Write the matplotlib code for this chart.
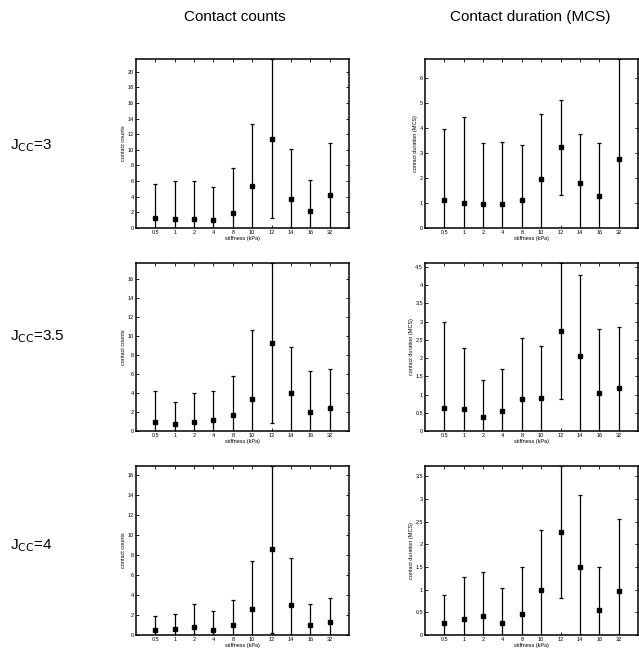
import matplotlib
matplotlib.use("Agg")
import matplotlib.pyplot as plt
from matplotlib.ticker import FuncFormatter, MultipleLocator
import numpy as np

plt.rcParams['font.family'] = ['Liberation Sans', 'DejaVu Sans']

stiffness = ["0.5", "1", "2", "4", "8", "10", "12", "14", "16", "32"]
couplings = ["3", "3.5", "4"]

# contact counts: mean and standard deviation per stiffness
counts_mean = [
    [1.28, 1.20, 1.16, 1.07, 1.97, 5.35, 11.43, 3.77, 2.18, 4.24],
    [0.95, 0.70, 0.98, 1.16, 1.68, 3.40, 9.26, 4.00, 1.96, 2.39],
    [0.50, 0.57, 0.83, 0.50, 0.97, 2.60, 8.53, 3.03, 1.03, 1.33],
]
counts_std = [
    [4.37, 4.84, 4.79, 4.20, 5.70, 7.93, 10.19, 6.33, 3.94, 6.68],
    [3.23, 2.39, 3.06, 3.05, 4.14, 7.20, 8.42, 4.88, 4.32, 4.10],
    [1.40, 1.56, 2.30, 1.93, 2.53, 4.77, 8.33, 4.67, 2.04, 2.40],
]

# contact duration (MCS): mean and standard deviation per stiffness
dur_mean = [
    [1.14, 1.02, 0.95, 0.95, 1.13, 1.96, 3.23, 1.79, 1.29, 2.75],
    [0.62, 0.60, 0.39, 0.56, 0.885, 0.91, 2.75, 2.05, 1.04, 1.19],
    [0.26, 0.36, 0.42, 0.27, 0.46, 0.99, 2.27, 1.49, 0.55, 0.97],
]
dur_std = [
    [2.85, 3.42, 2.45, 2.50, 2.21, 2.63, 1.92, 1.97, 2.11, 4.03],
    [2.36, 1.69, 1.01, 1.14, 1.655, 1.43, 1.86, 2.22, 1.76, 1.67],
    [0.62, 0.93, 0.98, 0.76, 1.04, 1.32, 1.46, 1.59, 0.95, 1.59],
]

count_step = [2, 2, 2]
dur_step = [1, 0.5, 0.5]

W, H = 639, 649
fig = plt.figure(figsize=(W / 100, H / 100), dpi=100)

# axes boxes in pixels
col_x = [(136, 349), (425, 638)]
row_y = [(59, 228), (263, 431), (466, 635)]


def px_axes(x0, x1, y0, y1):
    return fig.add_axes([x0 / W, 1 - y1 / H, (x1 - x0) / W, (y1 - y0) / H])


fmt = FuncFormatter(lambda v, p: "%g" % v)
xpos = np.arange(1, len(stiffness) + 1)


def panel(ax, mean, std, step, ylabel):
    mean = np.array(mean)
    std = np.array(std)
    ax.errorbar(xpos, mean, yerr=std, fmt='s', ms=2.2, color='k',
                ecolor='k', elinewidth=0.9, capsize=1.6, capthick=0.9)
    ax.set_xlim(0, len(stiffness) + 1)
    ax.set_ylim(0, (mean + std).max())
    ax.set_xticks(xpos)
    ax.set_xticklabels(stiffness)
    ax.yaxis.set_major_locator(MultipleLocator(step))
    ax.yaxis.set_major_formatter(fmt)
    ax.tick_params(direction='in', length=2, width=0.6, labelsize=4,
                   top=True, right=True, pad=1.5)
    for s in ax.spines.values():
        s.set_linewidth(1.1)
    ax.set_xlabel("stiffness (kPa)", fontsize=4, labelpad=1)
    ax.set_ylabel(ylabel, fontsize=4, labelpad=1)


for r in range(3):
    ax = px_axes(col_x[0][0], col_x[0][1], row_y[r][0], row_y[r][1])
    panel(ax, counts_mean[r], counts_std[r], count_step[r], "contact counts")
    ax = px_axes(col_x[1][0], col_x[1][1], row_y[r][0], row_y[r][1])
    panel(ax, dur_mean[r], dur_std[r], dur_step[r], "contact duration (MCS)")

    yc = (row_y[r][0] + row_y[r][1]) / 2 + [2, -10, -5][r]
    fig.text(10 / W, 1 - yc / H, "J$_{\\mathrm{CC}}$=" + couplings[r],
             fontsize=11, ha='left', va='center')

fig.text(235 / W, 1 - 17 / H, "Contact counts", fontsize=11, ha='center', va='center')
fig.text(530 / W, 1 - 17 / H, "Contact duration (MCS)", fontsize=11, ha='center', va='center')

fig.savefig("out.png", dpi=100)
